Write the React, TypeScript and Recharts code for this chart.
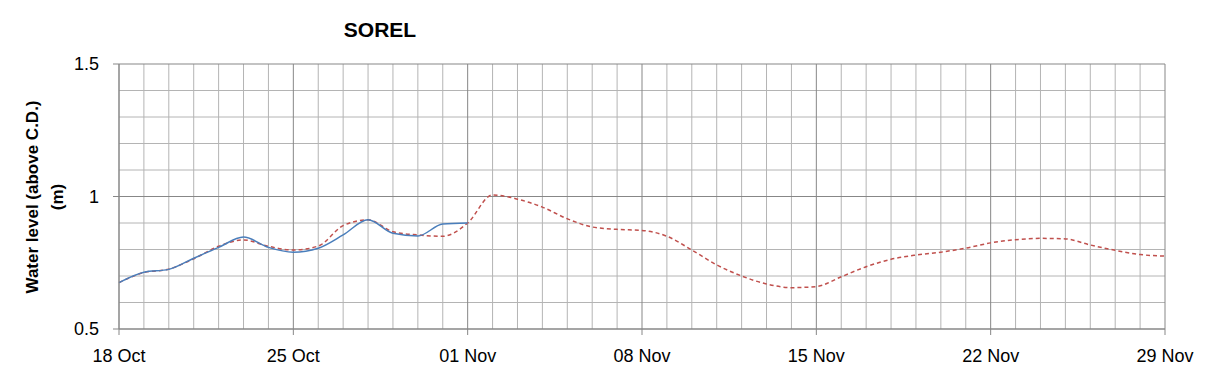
import React from 'react';
import { LineChart, Line, XAxis, YAxis, ReferenceLine } from 'recharts';

const DAY_INDEX = [0, 1, 2, 3, 4, 5, 6, 7, 8, 9, 10, 11, 12, 13, 14, 15, 16, 17, 18, 19, 20, 21, 22, 23, 24, 25, 26, 27, 28, 29, 30, 31, 32, 33, 34, 35, 36, 37, 38, 39, 40, 41, 42];
const TICK_DAYS = [0, 7, 14, 21, 28, 35, 42];
const DATE_LABELS = ['18 Oct', '25 Oct', '01 Nov', '08 Nov', '15 Nov', '22 Nov', '29 Nov'];
const OBSERVED = [0.675, 0.714, 0.725, 0.767, 0.808, 0.847, 0.808, 0.79, 0.805, 0.855, 0.912, 0.861, 0.851, 0.896, 0.9];
const FORECAST = [
  0.675, 0.713, 0.726, 0.765, 0.812, 0.836, 0.812, 0.798, 0.813, 0.89, 0.912, 0.867, 0.855, 0.85, 0.9,
  1.006, 0.99, 0.96, 0.916, 0.885, 0.876, 0.872, 0.85, 0.798, 0.742, 0.7, 0.67, 0.656, 0.66, 0.697,
  0.735, 0.763, 0.779, 0.79, 0.805, 0.825, 0.837, 0.842, 0.84, 0.817, 0.797, 0.781, 0.775,
];
const Y_MAJOR = [0.5, 1, 1.5];
const Y_MINOR = [0.6, 0.7, 0.8, 0.9, 1.1, 1.2, 1.3, 1.4];

const data = DAY_INDEX.map((d, i) => ({
  day: d,
  observed: i < OBSERVED.length ? OBSERVED[i] : null,
  forecast: FORECAST[i],
}));

const MINOR = '#b4b4b4';
const MAJOR = '#878787';
const FONT = 'Liberation Sans, Arial, sans-serif';

const YLabel = () => (
  <g>
    <text x={24} y={189} transform="rotate(-90, 24, 189)" textAnchor="middle" dominantBaseline="central"
      fontFamily={FONT} fontWeight="bold" fontSize={17} fill="#000">Water level (above C.D.)</text>
    <text x={49} y={189} transform="rotate(-90, 49, 189)" textAnchor="middle" dominantBaseline="central"
      fontFamily={FONT} fontWeight="bold" fontSize={17} fill="#000">(m)</text>
    <text x={372} y={29} textAnchor="middle" fontFamily={FONT} fontWeight="bold" fontSize={21} fill="#000">SOREL</text>
  </g>
);

export default function App() {
  return (
    <LineChart width={1200} height={370} data={data} margin={{ top: 56, right: 43, bottom: 9, left: 51 }}>
      {DAY_INDEX.filter((d) => d % 7 !== 0).map((d) => (
        <ReferenceLine key={'vx' + d} x={d} stroke={MINOR} strokeWidth={1} />
      ))}
      {Y_MINOR.map((v) => (
        <ReferenceLine key={'hy' + v} y={v} stroke={MINOR} strokeWidth={1} />
      ))}
      {TICK_DAYS.map((d) => (
        <ReferenceLine key={'VX' + d} x={d} stroke={MAJOR} strokeWidth={1} />
      ))}
      {Y_MAJOR.map((v) => (
        <ReferenceLine key={'HY' + v} y={v} stroke={MAJOR} strokeWidth={1} />
      ))}
      <XAxis
        dataKey="day"
        type="number"
        domain={[0, 42]}
        ticks={TICK_DAYS}
        tickFormatter={(v) => DATE_LABELS[TICK_DAYS.indexOf(v)]}
        height={40}
        tickSize={6}
        tickMargin={14}
        axisLine={{ stroke: MAJOR }}
        tickLine={{ stroke: MAJOR }}
        tick={{ fontSize: 18, fill: '#000', fontFamily: FONT }}
        interval={0}
      />
      <YAxis
        type="number"
        domain={[0.5, 1.5]}
        ticks={Y_MAJOR}
        width={60}
        tickSize={6}
        tickMargin={14}
        axisLine={{ stroke: MAJOR }}
        tickLine={{ stroke: MAJOR }}
        tick={{ fontSize: 18, fill: '#000', fontFamily: FONT }}
        label={{ content: () => <YLabel /> }}
        interval={0}
      />
      <Line type="monotone" dataKey="forecast" stroke="#c0504d" strokeWidth={1.5} strokeDasharray="4 3" dot={false} isAnimationActive={false} />
      <Line type="monotone" dataKey="observed" stroke="#4a7ebb" strokeWidth={1.5} dot={false} isAnimationActive={false} connectNulls={false} />
    </LineChart>
  );
}
